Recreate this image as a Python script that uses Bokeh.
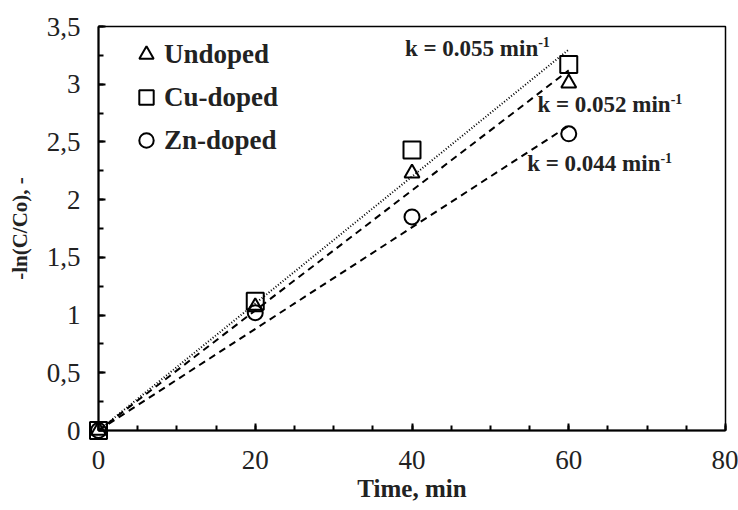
from bokeh.plotting import figure
from bokeh.models import Range1d, Legend, LegendItem, Label, CustomJSTickFormatter, FixedTicker
from bokeh.embed import file_html
from bokeh.resources import INLINE

time_min = [0, 20, 40, 60]
undoped = [0, 1.07, 2.23, 3.01]
cu_doped = [0, 1.12, 2.43, 3.17]
zn_doped = [0, 1.02, 1.85, 2.57]
k_undoped = 0.052
k_cu = 0.055
k_zn = 0.044
fit_t = [0, 60]
x_ticks = [0, 20, 40, 60, 80]
y_ticks = [0, 0.5, 1, 1.5, 2, 2.5, 3, 3.5]

FONT = "Liberation Serif"
INK = "#222222"

p = figure(width=738, height=510, output_backend="svg", toolbar_location=None,
           x_range=Range1d(0, 80), y_range=Range1d(0, 3.5),
           min_border_left=98, min_border_right=13, min_border_top=26, min_border_bottom=80)
p.grid.visible = False
p.outline_line_color = "black"
p.outline_line_width = 1.5
p.background_fill_color = "white"

for ax in (p.xaxis[0], p.yaxis[0]):
    ax.axis_line_width = 2
    ax.axis_line_color = "black"
    ax.major_tick_in = 7
    ax.major_tick_out = 0
    ax.minor_tick_in = 5
    ax.minor_tick_out = 0
    ax.major_tick_line_width = 2
    ax.minor_tick_line_width = 2
    ax.major_label_text_font = FONT
    ax.major_label_text_font_size = "27px"
    ax.major_label_text_color = INK
    ax.axis_label_text_font = FONT
    ax.axis_label_text_font_style = "bold"
    ax.axis_label_text_color = INK

p.xaxis.axis_label_text_font_size = "25px"
p.yaxis.axis_label_text_font_size = "21px"
p.xaxis.ticker = FixedTicker(ticks=x_ticks, minor_ticks=list(range(0, 81, 5)))
p.yaxis.ticker = FixedTicker(ticks=y_ticks, minor_ticks=[i * 0.25 for i in range(15)])
p.yaxis.formatter = CustomJSTickFormatter(code="return (Math.round(tick*10)/10).toString().replace('.', ',');")
p.xaxis.major_label_standoff = 20
p.yaxis.major_label_standoff = 18
p.xaxis.axis_label = "Time, min"
p.yaxis.axis_label = "-ln(C/Co), -"
p.xaxis.axis_label_standoff = 3
p.yaxis.axis_label_standoff = 12

# fit lines
p.line(fit_t, [k_cu * t for t in fit_t], line_color="black", line_width=2, line_dash="1 2")
p.line(fit_t, [k_undoped * t for t in fit_t], line_color="black", line_width=2, line_dash="7 5")
p.line(fit_t, [k_zn * t for t in fit_t], line_color="black", line_width=2, line_dash="7 5")

r_tri = p.scatter(time_min, undoped, marker="triangle", size=15, fill_color="white", fill_alpha=0,
                  line_color="black", line_width=2, level="overlay")
r_sq = p.scatter(time_min, cu_doped, marker="square", size=17, fill_color="white", fill_alpha=0,
                 line_color="black", line_width=2, level="overlay")
r_ci = p.scatter(time_min, zn_doped, marker="circle", size=15, fill_color="white", fill_alpha=0,
                 line_color="black", line_width=2, level="overlay")

legend = Legend(items=[LegendItem(label="Undoped", renderers=[r_tri]),
                       LegendItem(label="Cu-doped", renderers=[r_sq]),
                       LegendItem(label="Zn-doped", renderers=[r_ci])],
                location=(30, 270))
legend.border_line_alpha = 0
legend.background_fill_alpha = 0
legend.label_text_font = FONT
legend.label_text_font_style = "bold"
legend.label_text_font_size = "27px"
legend.label_text_color = INK
legend.glyph_width = 36
legend.glyph_height = 40
legend.label_standoff = 0
legend.spacing = 3
legend.margin = 0
legend.padding = 0
p.add_layout(legend)

ann_text = ["k = 0.055 min", "k = 0.052 min", "k = 0.044 min"]
ann_x = [56.1, 73.0, 71.7]
ann_y = [3.31, 2.82, 2.31]
for txt, x, y in zip(ann_text, ann_x, ann_y):
    p.add_layout(Label(x=x, y=y, text=txt, text_align="right", text_baseline="middle",
                       text_font=FONT, text_font_style="bold", text_font_size="23px", text_color=INK))
    p.add_layout(Label(x=x, y=y, y_offset=6, text="-1", text_align="left", text_baseline="middle",
                       text_font=FONT, text_font_style="bold", text_font_size="14px", text_color=INK))

open("out.html", "w").write(file_html(p, INLINE))
